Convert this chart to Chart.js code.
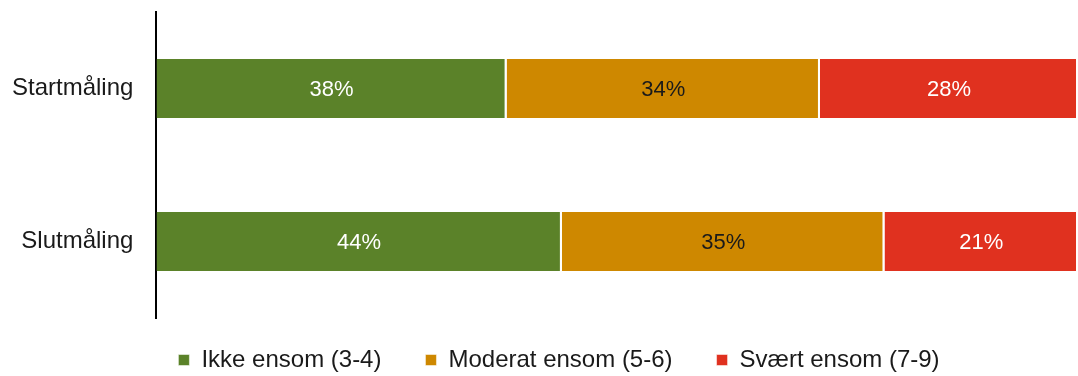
<!DOCTYPE html>
<html lang="no">
<head>
<meta charset="UTF-8" />
<title>Ensomhet ved start og slutt</title>
<script src="https://cdn.jsdelivr.net/npm/chart.js"></script>
<style>
  html, body { margin: 0; padding: 0; background: #fff; }
  .chart-box { width: 1078px; height: 376px; }
</style>
</head>
<body>
<div class="chart-box"><canvas id="chart"></canvas></div>
<script>
  // Andeler i prosent per måling
  const categories = ["Startmåling", "Slutmåling"];
  const seriesNames = ["Ikke ensom (3-4)", "Moderat ensom (5-6)", "Svært ensom (7-9)"];
  const ikkeEnsom = [38, 44];
  const moderatEnsom = [34, 35];
  const svaertEnsom = [28, 21];

  const colors = ["#5b8229", "#ce8800", "#e0311f"];
  const labelColors = ["#ffffff", "#1a1a1a", "#ffffff"];
  const fontFamily = "'Liberation Sans', Arial, sans-serif";

  // Skriver verdien midt i hvert segment
  const valueLabels = {
    id: "valueLabels",
    afterDatasetsDraw(chart) {
      const ctx = chart.ctx;
      ctx.save();
      ctx.font = "22px " + fontFamily;
      ctx.textAlign = "center";
      ctx.textBaseline = "middle";
      chart.data.datasets.forEach((ds, i) => {
        chart.getDatasetMeta(i).data.forEach((bar, j) => {
          const mid = (bar.x + bar.base) / 2;
          ctx.fillStyle = labelColors[i];
          ctx.fillText(ds.data[j] + "%", mid, bar.y + 1);
        });
      });
      ctx.restore();
    }
  };

  // Legenden trekkes litt opp og mot høyre, så avstanden mellom elementene kan være stor
  const legendShift = {
    id: "legendShift",
    afterLayout(chart) {
      const legend = chart.legend;
      legend.top -= 14;
      legend.bottom -= 14;
      legend.left += 14;
      legend.right += 14;
    }
  };

  const seriesData = [ikkeEnsom, moderatEnsom, svaertEnsom];

  new Chart(document.getElementById("chart"), {
    type: "bar",
    data: {
      labels: categories,
      datasets: seriesNames.map((name, i) => ({
        label: name,
        data: seriesData[i],
        backgroundColor: colors[i],
        borderColor: "#ffffff",
        borderWidth: { top: 0, bottom: 0, left: 0, right: 2 },
        borderSkipped: false,
        barPercentage: 0.386,
        categoryPercentage: 1.0
      }))
    },
    options: {
      indexAxis: "y",
      responsive: true,
      maintainAspectRatio: false,
      animation: false,
      layout: { padding: { top: 0, right: 0, left: 12, bottom: -20 } },
      scales: {
        x: {
          stacked: true,
          min: 0,
          max: 100,
          display: false
        },
        y: {
          stacked: true,
          grid: { display: false, drawTicks: true, tickLength: 23, tickColor: "rgba(0,0,0,0)" },
          border: { display: true, color: "#000000", width: 2 },
          ticks: {
            color: "#1a1a1a",
            padding: 0,
            font: { family: fontFamily, size: 24, lineHeight: 1 }
          }
        }
      },
      plugins: {
        tooltip: { enabled: false },
        legend: {
          position: "bottom",
          labels: {
            color: "#1a1a1a",
            boxWidth: 11,
            boxHeight: 11,
            padding: 44,
            font: { family: fontFamily, size: 24 }
          }
        }
      }
    },
    plugins: [valueLabels, legendShift]
  });
</script>
</body>
</html>
